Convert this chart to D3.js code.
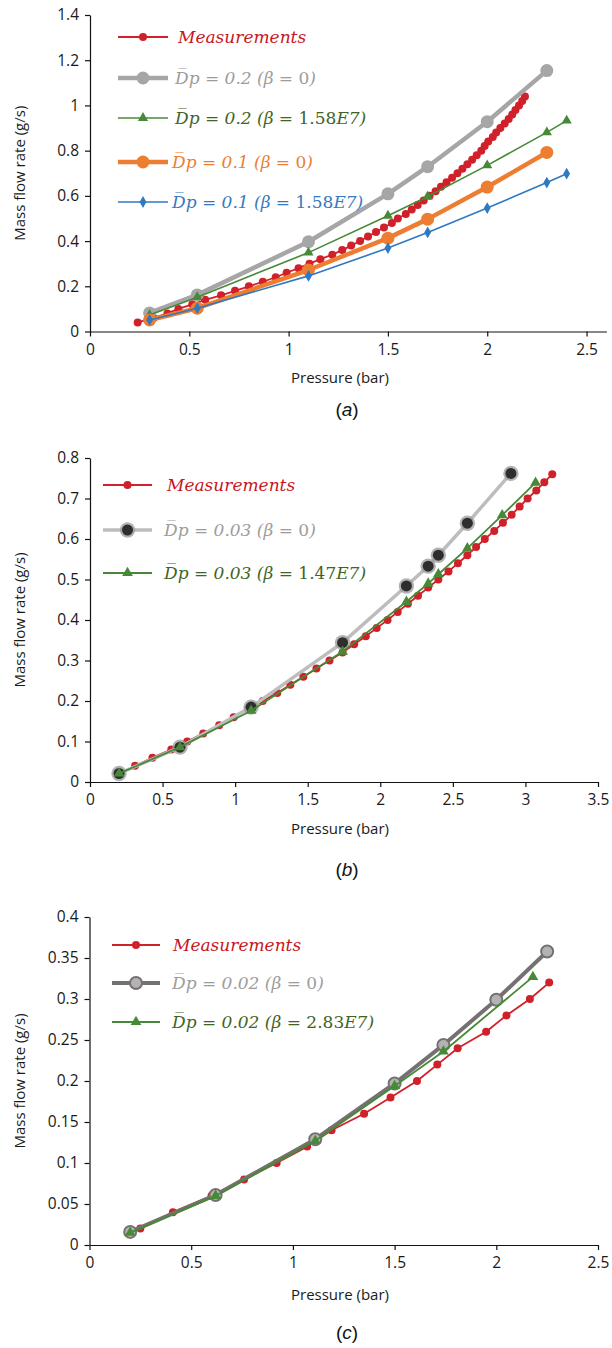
<!DOCTYPE html>
<html><head><meta charset="utf-8">
<script src="https://cdn.jsdelivr.net/npm/d3@7"></script>
<style>
body{margin:0;background:#fff;}
svg{display:block;}
.tick text{font-family:"Open Sans",sans-serif;font-size:15.5px;fill:#1a1a1a;}
.axis path,.axis line{stroke:#111;stroke-width:1.2;}
.lg{font-family:"DejaVu Serif",serif;font-style:italic;font-size:17px;}
</style></head>
<body><svg id="c" width="612" height="1348"></svg>
<script>
// ---------- Panel (a) ----------
const aXTicks = [0, 0.5, 1, 1.5, 2, 2.5];
const aYTicks = [0, 0.2, 0.4, 0.6, 0.8, 1, 1.2, 1.4];
const aModelP = [0.3, 0.54, 1.1, 1.5, 1.7, 2.0, 2.3];
const aGray   = [0.082, 0.162, 0.397, 0.609, 0.729, 0.928, 1.154];
const aOrange = [0.051, 0.103, 0.272, 0.413, 0.497, 0.639, 0.792];
const aModelP2 = [0.3, 0.54, 1.1, 1.5, 1.7, 2.0, 2.3, 2.4];
const aGreen  = [0.073, 0.152, 0.349, 0.512, 0.597, 0.735, 0.881, 0.933];
const aBlue   = [0.051, 0.103, 0.246, 0.369, 0.438, 0.546, 0.659, 0.698];
const aMeasP = [0.24,0.32,0.39,0.445,0.515,0.58,0.66,0.73,0.80,0.87,0.935,0.99,1.05,1.105,1.16,1.22,1.27,1.315,1.36,1.40,1.44,1.48,1.52,1.55,1.59,1.62,1.65,1.68,1.71,1.74,1.767,1.795,1.823,1.85,1.875,1.90,1.924,1.947,1.97,1.987,2.005,2.028,2.045,2.066,2.088,2.108,2.126,2.142,2.16,2.176,2.19];
const aMeas  = [0.04,0.06,0.08,0.10,0.12,0.14,0.16,0.18,0.20,0.22,0.24,0.26,0.28,0.30,0.32,0.34,0.36,0.38,0.40,0.42,0.44,0.46,0.48,0.50,0.52,0.54,0.56,0.58,0.60,0.62,0.64,0.66,0.68,0.70,0.72,0.74,0.76,0.78,0.80,0.82,0.84,0.86,0.88,0.90,0.92,0.94,0.96,0.98,1.00,1.02,1.04];

// ---------- Panel (b) ----------
const bXTicks = [0, 0.5, 1, 1.5, 2, 2.5, 3, 3.5];
const bYTicks = [0, 0.1, 0.2, 0.3, 0.4, 0.5, 0.6, 0.7, 0.8];
const bModelP = [0.2, 0.62, 1.11, 1.74, 2.18, 2.33, 2.4, 2.6, 2.9];
const bGray   = [0.021, 0.086, 0.185, 0.344, 0.484, 0.533, 0.560, 0.639, 0.762];
const bModelP2 = [0.2, 0.62, 1.11, 1.74, 2.18, 2.33, 2.4, 2.6, 2.84, 3.07];
const bGreen  = [0.021, 0.086, 0.176, 0.322, 0.445, 0.490, 0.513, 0.577, 0.659, 0.739];
const bMeasP = [0.31,0.43,0.56,0.67,0.78,0.89,0.99,1.09,1.19,1.29,1.38,1.47,1.56,1.65,1.74,1.82,1.90,1.975,2.05,2.12,2.19,2.26,2.33,2.40,2.47,2.535,2.60,2.66,2.72,2.785,2.845,2.905,2.96,3.015,3.075,3.13,3.185];
const bMeas  = [0.04,0.06,0.08,0.10,0.12,0.14,0.16,0.18,0.20,0.22,0.24,0.26,0.28,0.30,0.32,0.34,0.36,0.38,0.40,0.42,0.44,0.46,0.48,0.50,0.52,0.54,0.56,0.58,0.60,0.62,0.64,0.66,0.68,0.70,0.72,0.74,0.76];

// ---------- Panel (c) ----------
const cXTicks = [0, 0.5, 1, 1.5, 2, 2.5];
const cYTicks = [0, 0.05, 0.1, 0.15, 0.2, 0.25, 0.3, 0.35, 0.4];
const cModelP = [0.2, 0.62, 1.11, 1.5, 1.74, 2.0, 2.25];
const cGray   = [0.016, 0.061, 0.129, 0.197, 0.244, 0.299, 0.358];
const cModelP2 = [0.2, 0.62, 1.11, 1.5, 1.74, 2.18];
const cGreen  = [0.015, 0.060, 0.127, 0.194, 0.236, 0.327];
const cMeasP = [0.25,0.41,0.60,0.76,0.92,1.07,1.19,1.35,1.48,1.61,1.71,1.81,1.95,2.05,2.165,2.26];
const cMeas  = [0.02,0.04,0.06,0.08,0.10,0.12,0.14,0.16,0.18,0.20,0.22,0.24,0.26,0.28,0.30,0.32];

const xTitle = "Pressure (bar)";
const yTitle = "Mass flow rate (g/s)";

const RED = "#d0202a", GREEN = "#468a37", GRAY = "#a6a6a6", ORANGE = "#ed7d31", BLUE = "#2f78c2";

const svg = d3.select("#c");
const zip = (xs, ys) => xs.map((v, i) => [v, ys[i]]);
const fmt = v => String(+v.toFixed(2));

function drawPanel(p) {
  const g = svg.append("g");
  const x = d3.scaleLinear().domain(p.xDomain).range(p.xRange);
  const y = d3.scaleLinear().domain(p.yDomain).range(p.yRange);
  g.append("g").attr("class", "axis").attr("transform", `translate(0,${p.yRange[0]})`)
    .call(d3.axisBottom(x).tickValues(p.xTicks).tickFormat(fmt).tickSize(5).tickSizeOuter(0).tickPadding(7));
  g.append("g").attr("class", "axis").attr("transform", `translate(${p.xRange[0]},0)`)
    .call(d3.axisLeft(y).tickValues(p.yTicks).tickFormat(fmt).tickSize(5).tickSizeOuter(0).tickPadding(6));
  g.selectAll(".axis .domain").attr("stroke", "#111");
  // titles
  g.append("text").attr("x", 340).attr("y", p.xTitleY).attr("text-anchor", "middle")
    .attr("font-family", "Open Sans, sans-serif").attr("font-size", 15).attr("fill", "#1a1a1a").text(xTitle);
  g.append("text").attr("transform", `translate(21,${(p.yRange[0] + p.yRange[1]) / 2}) rotate(-90)`)
    .attr("text-anchor", "middle").attr("dominant-baseline", "middle")
    .attr("font-family", "Open Sans, sans-serif").attr("font-size", 15).attr("fill", "#1a1a1a").text(yTitle);
  const cap = g.append("text").attr("x", 347).attr("y", p.capY).attr("text-anchor", "middle")
    .attr("font-family", "Liberation Sans, Arial, sans-serif").attr("font-size", 19).attr("fill", "#111");
  cap.append("tspan").text("(");
  cap.append("tspan").attr("font-style", "italic").text(p.cap);
  cap.append("tspan").text(")");

  const line = d3.line().x(d => x(d[0])).y(d => y(d[1]));
  p.series.forEach(s => {
    const data = zip(s.xs, s.ys);
    g.append("path").datum(data).attr("d", line).attr("fill", "none")
      .attr("stroke", s.color).attr("stroke-width", s.width).attr("stroke-linejoin", "round");
    drawMarkers(g, data.map(d => [x(d[0]), y(d[1])]), s);
  });
  // legend
  p.legend.forEach((L, i) => {
    const s = p.series[i];
    const ly = L.y;
    g.append("line").attr("x1", L.x1).attr("x2", L.x2).attr("y1", ly).attr("y2", ly)
      .attr("stroke", s.color).attr("stroke-width", s.width);
    drawMarkers(g, [[(L.x1 + L.x2) / 2, ly]], s);
    const t = g.append("text").attr("class", "lg").attr("x", L.tx).attr("y", ly + 6).attr("fill", L.color);
    L.parts.forEach(pt => {
      t.append("tspan").attr("font-style", pt[1] ? "italic" : "normal").text(pt[0]);
    });
  });
}

function drawMarkers(g, pts, s) {
  const m = s.marker;
  pts.forEach(([px, py]) => {
    if (m.type === "circle") {
      if (m.halo) g.append("circle").attr("cx", px).attr("cy", py).attr("r", m.r + 2.2).attr("fill", m.halo).attr("opacity", 0.75);
      g.append("circle").attr("cx", px).attr("cy", py).attr("r", m.r)
        .attr("fill", m.fill).attr("stroke", m.stroke || "none").attr("stroke-width", m.sw || 0);
    } else {
      const sym = m.type === "triangle" ? d3.symbolTriangle : d3.symbolDiamond;
      g.append("path").attr("transform", `translate(${px},${py})`)
        .attr("d", d3.symbol().type(sym).size(m.size)()).attr("fill", m.fill);
    }
  });
}

const Dbar = "D\u0305p";

drawPanel({
  xDomain: [0, 2.6], xRange: [90, 606.4], yDomain: [0, 1.4], yRange: [331.5, 15],
  xTicks: aXTicks, yTicks: aYTicks, xTitleY: 383, capY: 416, cap: "a",
  series: [
    {xs: aMeasP, ys: aMeas, color: RED, width: 1.8, marker: {type: "circle", r: 4, fill: RED}},
    {xs: aModelP, ys: aGray, color: GRAY, width: 4.5, marker: {type: "circle", r: 6.5, fill: GRAY}},
    {xs: aModelP2, ys: aGreen, color: GREEN, width: 1.6, marker: {type: "triangle", size: 45, fill: GREEN}},
    {xs: aModelP, ys: aOrange, color: ORANGE, width: 4.5, marker: {type: "circle", r: 6.5, fill: ORANGE}},
    {xs: aModelP2, ys: aBlue, color: BLUE, width: 1.6, marker: {type: "diamond", size: 40, fill: BLUE}}
  ],
  legend: [
    {y: 37, x1: 118, x2: 168, tx: 178, color: "#c8161d", parts: [["Measurements", true]]},
    {y: 78, x1: 118, x2: 168, tx: 175, color: "#9c9c9c", parts: [[Dbar + " = 0.2 (β = ", true], ["0", false], [")", true]]},
    {y: 118, x1: 118, x2: 168, tx: 175, color: "#3f6424", parts: [[Dbar + " = 0.2 (β = ", true], ["1.58", false], ["E7", true], [")", true]]},
    {y: 162, x1: 118, x2: 168, tx: 172, color: "#ed7d31", parts: [[Dbar + " = 0.1 (β = ", true], ["0", false], [")", true]]},
    {y: 202, x1: 118, x2: 168, tx: 172, color: "#3579c0", parts: [[Dbar + " = 0.1 (β = ", true], ["1.58", false], ["E7", true], [")", true]]}
  ]
});

drawPanel({
  xDomain: [0, 3.5], xRange: [90, 598], yDomain: [0, 0.8], yRange: [782, 458],
  xTicks: bXTicks, yTicks: bYTicks, xTitleY: 834, capY: 876, cap: "b",
  series: [
    {xs: bMeasP, ys: bMeas, color: RED, width: 1.8, marker: {type: "circle", r: 4, fill: RED}},
    {xs: bModelP, ys: bGray, color: "#bdbdbd", width: 3.5, marker: {type: "circle", r: 5.5, fill: "#2e2e2e", halo: "#9a9a9a"}},
    {xs: bModelP2, ys: bGreen, color: GREEN, width: 1.8, marker: {type: "triangle", size: 50, fill: GREEN}}
  ],
  legend: [
    {y: 485, x1: 103, x2: 152, tx: 167, color: "#c8161d", parts: [["Measurements", true]]},
    {y: 530, x1: 103, x2: 152, tx: 164, color: "#9c9c9c", parts: [[Dbar + " = 0.03 (β = ", true], ["0", false], [")", true]]},
    {y: 573, x1: 103, x2: 152, tx: 164, color: "#3f6424", parts: [[Dbar + " = 0.03 (β = ", true], ["1.47", false], ["E7", true], [")", true]]}
  ]
});

drawPanel({
  xDomain: [0, 2.5], xRange: [89.5, 598], yDomain: [0, 0.4], yRange: [1245, 917],
  xTicks: cXTicks, yTicks: cYTicks, xTitleY: 1300, capY: 1339, cap: "c",
  series: [
    {xs: cMeasP, ys: cMeas, color: RED, width: 1.8, marker: {type: "circle", r: 4, fill: RED}},
    {xs: cModelP, ys: cGray, color: "#767171", width: 4, marker: {type: "circle", r: 6, fill: "#b3b3b3", stroke: "#767171", sw: 2}},
    {xs: cModelP2, ys: cGreen, color: GREEN, width: 1.8, marker: {type: "triangle", size: 50, fill: GREEN}}
  ],
  legend: [
    {y: 945, x1: 112, x2: 160, tx: 173, color: "#c8161d", parts: [["Measurements", true]]},
    {y: 983, x1: 112, x2: 160, tx: 172, color: "#9c9c9c", parts: [[Dbar + " = 0.02 (β = ", true], ["0", false], [")", true]]},
    {y: 1022, x1: 112, x2: 160, tx: 172, color: "#3f6424", parts: [[Dbar + " = 0.02 (β = ", true], ["2.83", false], ["E7", true], [")", true]]}
  ]
});
</script></body></html>
